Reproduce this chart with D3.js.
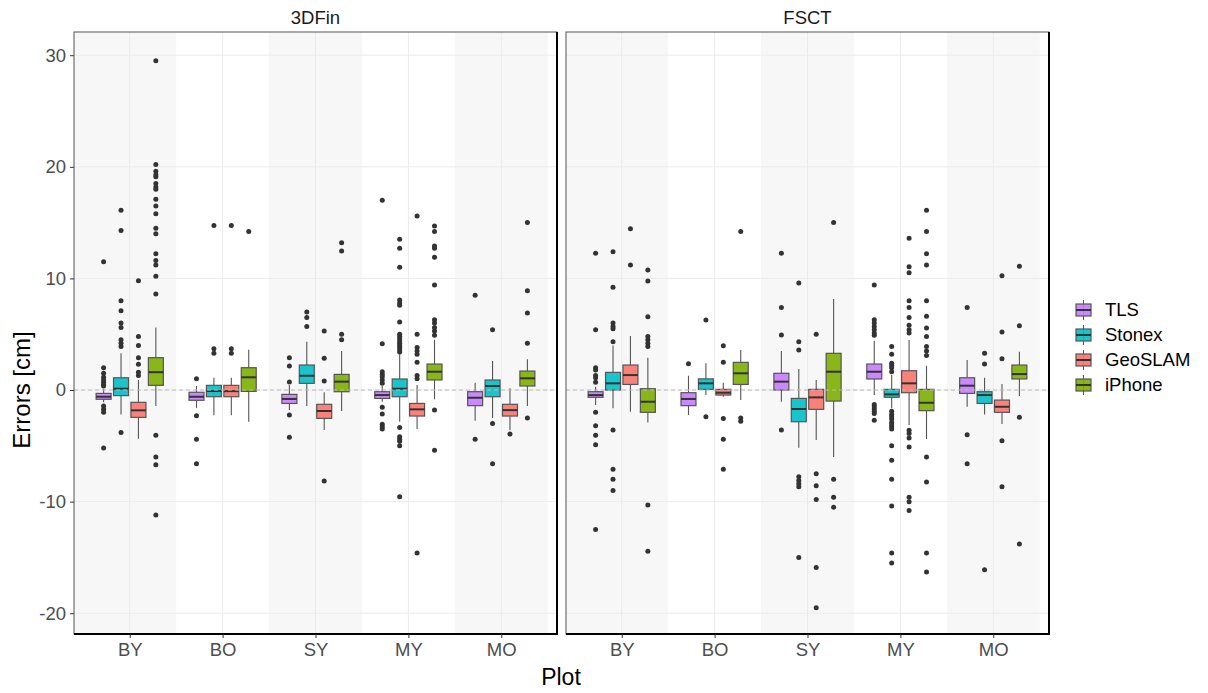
<!DOCTYPE html>
<html><head><meta charset="utf-8">
<script src="https://cdn.jsdelivr.net/npm/d3@7"></script>
<style>body{margin:0;background:#fff}text{font-family:Arial,"Liberation Sans",sans-serif}</style>
</head><body><svg id="c" width="1208" height="693"></svg>
<script>
const methods = ["3DFin", "FSCT"];
const plots = ["BY", "BO", "SY", "MY", "MO"];
const devices = ["TLS", "Stonex", "GeoSLAM", "iPhone"];
const yTicks = [-20, -10, 0, 10, 20, 30];
// each entry: [whiskerLow, q1, median, q3, whiskerHigh, outliers]
const fin_TLS = [
  [-1.1, -0.83, -0.6, -0.3, 0.1, [11.5, 2.0, 1.5, 1.14, 0.9, 0.7, 0.5, 0.35, -1.43, -1.73, -2.0, -5.2]],
  [-1.6, -0.92, -0.6, -0.2, 0.36, [1.0, -2.3, -4.4, -6.6]],
  [-1.8, -1.2, -0.8, -0.39, 0.45, [2.9, 2.15, 0.72, -2.24, -4.24]],
  [-1.05, -0.75, -0.45, -0.15, 0.36, [17.0, 4.15, 1.64, 1.4, 1.2, 0.9, 0.6, -1.55, -2.15, -3.07, -3.3, -3.5]],
  [-2.75, -1.4, -0.69, -0.15, 0.66, [8.5, -4.4]]
];
const fin_Stonex = [
  [-2.2, -0.5, 0.12, 1.1, 3.3, [16.1, 14.3, 8.0, 7.1, 6.0, 5.6, 4.5, 4.2, 3.9, -3.8]],
  [-2.27, -0.6, -0.09, 0.42, 1.1, [14.75, 3.7, 3.3]],
  [-1.43, 0.6, 1.28, 2.24, 4.33, [7.0, 6.5, 5.7]],
  [-2.84, -0.6, 0.12, 0.99, 3.2, [13.5, 12.7, 11.0, 8.06, 7.8, 7.6, 6.1, 5.0, 4.8, 4.6, 4.4, 4.2, 4.0, 3.8, 3.6, 3.4, -3.35, -4.18, -4.4, -4.6, -5.0, -9.56]],
  [-2.5, -0.6, 0.36, 0.9, 2.6, [5.4, -3.0, -6.6]]
];
const fin_GeoSLAM = [
  [-4.36, -2.45, -1.82, -1.1, 0.9, [9.8, 4.8, 4.0, 2.9, 2.3, 1.6, 1.3]],
  [-2.27, -0.6, -0.1, 0.42, 1.1, [14.75, 3.7, 3.3]],
  [-3.58, -2.54, -1.88, -1.28, -0.2, [5.3, 2.84, 0.8, -8.15]],
  [-3.5, -2.33, -1.73, -1.2, 0.45, [15.6, 5.0, 3.8, 3.5, 3.2, 2.5, 1.3, 1.0, -14.6]],
  [-3.6, -2.33, -1.8, -1.28, 0.15, [-3.95]]
];
const fin_iPhone = [
  [-1.43, 0.42, 1.6, 2.9, 5.6, [29.5, 20.2, 19.6, 19.3, 19.1, 18.5, 18.2, 18.0, 17.1, 16.5, 15.8, 14.5, 14.0, 12.2, 11.6, 11.2, 10.2, 8.6, -4.06, -6.0, -6.7, -11.2]],
  [-2.84, -0.12, 1.14, 2.0, 3.6, [14.2]],
  [-1.88, -0.15, 0.75, 1.4, 3.5, [13.2, 12.45, 5.0, 4.5]],
  [-0.83, 0.9, 1.64, 2.33, 4.5, [14.7, 14.2, 12.9, 12.7, 11.9, 9.4, 6.3, 6.0, 5.6, 5.3, 4.9, -1.8, -5.4]],
  [-1.43, 0.36, 1.05, 1.7, 2.75, [15.0, 8.9, 6.9, 4.2, -2.5]]
];
const fsct_TLS = [
  [-1.34, -0.65, -0.45, -0.15, 0.3, [12.25, 5.4, 2.0, 1.8, 1.3, 1.1, 0.7, -2.0, -3.2, -4.06, -4.9, -12.5]],
  [-2.24, -1.4, -0.8, -0.24, 1.28, [2.36]],
  [-1.05, 0.0, 0.75, 1.5, 3.5, [12.25, 7.4, 4.93, -3.58]],
  [-0.45, 0.99, 1.64, 2.33, 4.42, [9.4, 6.3, 6.0, 5.7, 5.4, 5.1, 4.9, -1.3, -1.5, -1.7, -1.9, -2.1, -2.7]],
  [-1.5, -0.3, 0.39, 1.1, 2.7, [7.4, -4.0, -6.6]]
];
const fsct_Stonex = [
  [-1.64, 0.0, 0.6, 1.58, 4.0, [12.4, 9.2, 6.0, 5.7, 5.5, 4.33, -3.58, -7.1, -8.0, -9.0]],
  [-0.45, 0.06, 0.6, 1.0, 2.4, [6.27, -2.4]],
  [-5.17, -2.84, -1.7, -0.75, 1.88, [9.6, 4.33, 3.58, -7.77, -8.1, -8.4, -8.66, -15.0]],
  [-1.64, -0.65, -0.39, 0.06, 1.34, [3.9, 3.2, 2.4, 2.2, 2.0, 1.64, -1.9, -2.2, -2.4, -2.6, -2.9, -3.1, -3.3, -3.5, -5.0, -6.3, -8.0, -10.4, -14.6, -15.5]],
  [-2.2, -1.2, -0.45, -0.15, 1.1, [3.3, 2.33, -16.1]]
];
const fsct_GeoSLAM = [
  [-1.94, 0.5, 1.34, 2.24, 4.84, [14.45, 11.2]],
  [-0.6, -0.45, -0.24, 0.06, 0.66, [3.97, 2.5, -2.54, -4.4, -7.1]],
  [-4.48, -1.73, -0.66, 0.06, 0.9, [5.0, -7.5, -8.57, -9.8, -15.9, -19.5]],
  [-3.14, -0.24, 0.6, 1.73, 4.48, [13.6, 11.05, 10.5, 8.0, 7.4, 6.5, 5.8, 5.4, 5.1, -3.6, -3.9, -4.3, -5.1, -9.6, -10.0, -10.8]],
  [-3.05, -2.0, -1.5, -0.9, 0.54, [10.25, 5.2, 2.8, -4.54, -8.66]]
];
const fsct_iPhone = [
  [-2.9, -2.0, -1.05, 0.12, 2.9, [10.75, 9.77, 6.57, 4.8, 4.5, 4.2, 3.9, -10.3, -14.45]],
  [-0.9, 0.5, 1.5, 2.48, 3.58, [14.2, -2.5, -2.8]],
  [-6.0, -0.99, 1.64, 3.29, 8.15, [15.0, -8.0, -9.6, -10.5]],
  [-4.39, -1.85, -1.14, 0.06, 2.18, [16.1, 14.2, 12.2, 11.2, 8.0, 6.6, 5.55, 4.8, 3.9, 3.5, 3.1, -6.0, -8.24, -14.6, -16.3]],
  [-0.54, 0.99, 1.43, 2.24, 3.43, [11.1, 5.76, -2.45, -13.8]]
];

const data = {
  "3DFin": [fin_TLS, fin_Stonex, fin_GeoSLAM, fin_iPhone],
  "FSCT": [fsct_TLS, fsct_Stonex, fsct_GeoSLAM, fsct_iPhone]
};
const colors = ["#C77CFF", "#00BFC4", "#F8766D", "#7CAE00"];
const FONT = "Arial, 'Liberation Sans', sans-serif";

const svg = d3.select("#c");
const panelW = 483, panelTop = 32, panelBot = 634;
const panelX = [74, 566];
const y = d3.scaleLinear().domain([-21.86, 32.08]).range([panelBot, panelTop]);

methods.forEach((m, mi) => {
  const x0 = panelX[mi];
  const x = d3.scalePoint().domain(plots).range([x0, x0 + panelW]).padding(0.6);
  const step = x.step();
  const g = svg.append("g");
  plots.forEach((p, i) => {
    if (i % 2 === 0) {
      const l = i === 0 ? x0 : x(p) - step / 2;
      g.append("rect").attr("x", l).attr("y", panelTop)
        .attr("width", x(p) + step / 2 - l).attr("height", panelBot - panelTop)
        .attr("fill", "#f7f7f7");
    }
  });
  yTicks.forEach(t => g.append("line").attr("x1", x0).attr("x2", x0 + panelW)
    .attr("y1", y(t)).attr("y2", y(t)).attr("stroke", "#ebebeb").attr("stroke-width", 1));
  plots.forEach(p => g.append("line").attr("x1", x(p)).attr("x2", x(p))
    .attr("y1", panelTop).attr("y2", panelBot).attr("stroke", "#ebebeb").attr("stroke-width", 1));

  const slot = step * 0.75 / 4;
  const bw = slot * 0.86;
  data[m].forEach((series, di) => {
    series.forEach((s, pi) => {
      const cx = x(plots[pi]) + (di - 1.5) * slot;
      const [lo, q1, med, q3, hi, outs] = s;
      g.append("line").attr("x1", cx).attr("x2", cx).attr("y1", y(hi)).attr("y2", y(q3))
        .attr("stroke", "#555").attr("stroke-width", 1.1);
      g.append("line").attr("x1", cx).attr("x2", cx).attr("y1", y(q1)).attr("y2", y(lo))
        .attr("stroke", "#555").attr("stroke-width", 1.1);
      g.append("rect").attr("x", cx - bw / 2).attr("y", y(q3)).attr("width", bw)
        .attr("height", Math.max(1, y(q1) - y(q3))).attr("fill", colors[di]).attr("fill-opacity", 0.9)
        .attr("stroke", "#555").attr("stroke-width", 1.2);
      g.append("line").attr("x1", cx - bw / 2).attr("x2", cx + bw / 2).attr("y1", y(med)).attr("y2", y(med))
        .attr("stroke", "#333").attr("stroke-width", 2);
      g.selectAll(null).data(outs).enter().append("circle")
        .attr("cx", cx).attr("cy", d => y(d)).attr("r", 2.5).attr("fill", "#333");
    });
  });
  g.append("line").attr("x1", x0).attr("x2", x0 + panelW).attr("y1", y(0)).attr("y2", y(0))
    .attr("stroke", "#bbb").attr("stroke-width", 1).attr("stroke-dasharray", "4,3");
  g.append("rect").attr("x", x0).attr("y", panelTop).attr("width", panelW).attr("height", panelBot - panelTop)
    .attr("fill", "none").attr("stroke", "#555").attr("stroke-width", 1);
  g.append("path").attr("d", `M${x0},${panelBot}H${x0 + panelW}V${panelTop}`)
    .attr("fill", "none").attr("stroke", "#000").attr("stroke-width", 2);
  svg.append("text").attr("x", x0 + panelW / 2).attr("y", 24).attr("text-anchor", "middle")
    .attr("font-size", 18.5).attr("fill", "#1a1a1a").text(m);
  const xa = svg.append("g").attr("transform", `translate(0,${panelBot})`)
    .call(d3.axisBottom(x).tickSize(4).tickPadding(5));
  xa.select(".domain").remove();
  xa.selectAll(".tick line").attr("stroke", "#333");
  xa.selectAll("text").attr("font-size", 18.5).attr("fill", "#4d4d4d").attr("font-family", FONT);
});

const ya = svg.append("g").attr("transform", `translate(${panelX[0]},0)`)
  .call(d3.axisLeft(y).tickValues(yTicks).tickFormat(d => String(d)).tickSize(4).tickPadding(4));
ya.select(".domain").remove();
ya.selectAll(".tick line").attr("stroke", "#333");
ya.selectAll("text").attr("font-size", 18.5).attr("fill", "#4d4d4d").attr("font-family", FONT);

svg.append("text").attr("x", 561).attr("y", 685).attr("text-anchor", "middle")
  .attr("font-size", 23).attr("fill", "#000").text("Plot");
svg.append("text").attr("transform", "translate(30,390) rotate(-90)").attr("text-anchor", "middle")
  .attr("font-size", 24).attr("fill", "#000").text("Errors [cm]");

const lg = svg.append("g").attr("transform", "translate(1076,0)");
devices.forEach((d, i) => {
  const cy = 310 + i * 25;
  lg.append("line").attr("x1", 7.5).attr("x2", 7.5).attr("y1", cy - 10).attr("y2", cy + 10).attr("stroke", "#555");
  lg.append("rect").attr("x", 0).attr("y", cy - 6).attr("width", 15).attr("height", 12)
    .attr("fill", colors[i]).attr("fill-opacity", 0.9).attr("stroke", "#555").attr("stroke-width", 1.2);
  lg.append("line").attr("x1", 0).attr("x2", 15).attr("y1", cy).attr("y2", cy).attr("stroke", "#333").attr("stroke-width", 2);
  lg.append("text").attr("x", 29).attr("y", cy + 6).attr("font-size", 18.5).attr("fill", "#000").text(d);
});
</script></body></html>
